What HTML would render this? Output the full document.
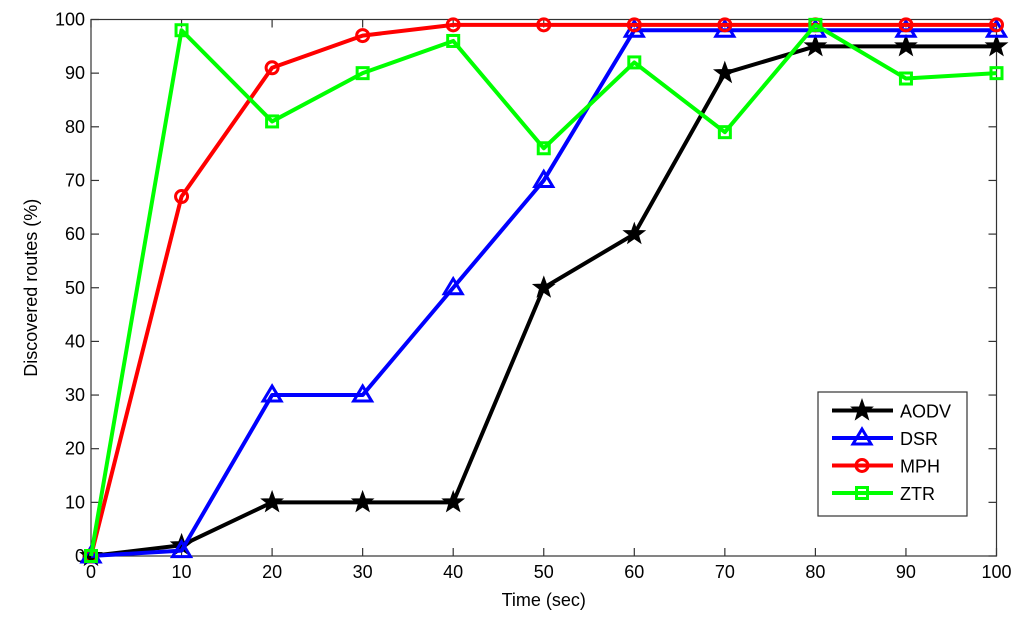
<!DOCTYPE html>
<html><head><meta charset="utf-8"><style>
body{margin:0;background:#fff;}
svg text{font-family:"Liberation Sans",Arial,sans-serif;font-size:18px;fill:#000;}
</style></head><body>
<svg id="chart" width="1024" height="626"></svg>
<script>
const xValues=[0,10,20,30,40,50,60,70,80,90,100];
const aodv=[0,2,10,10,10,50,60,90,95,95,95];
const dsr=[0,1,30,30,50,70,98,98,98,98,98];
const mph=[0,67,91,97,99,99,99,99,99,99,99];
const ztr=[0,98,81,90,96,76,92,79,99,89,90];
const xTicks=[0,10,20,30,40,50,60,70,80,90,100];
const yTicks=[0,10,20,30,40,50,60,70,80,90,100];
const seriesNames=["AODV","DSR","MPH","ZTR"];

const NS="http://www.w3.org/2000/svg";
const svg=document.getElementById('chart');
const L=91,R=996.5,T=19.5,B=556;
const sx=v=>L+(v-0)/100*(R-L);
const sy=v=>B-(v-0)/100*(B-T);
function mk(tag,attrs,parent){const e=document.createElementNS(NS,tag);for(const k in attrs)e.setAttribute(k,attrs[k]);(parent||svg).appendChild(e);return e;}

const axes=mk('rect',{x:L,y:T,width:R-L,height:B-T,fill:'#fff',stroke:'#333','stroke-width':1.2});


xTicks.forEach(t=>{
  const x=sx(t);
  mk('line',{x1:x,x2:x,y1:B,y2:B-8,stroke:'#333','stroke-width':1.2});
  mk('line',{x1:x,x2:x,y1:T,y2:T+8,stroke:'#333','stroke-width':1.2});
  const tx=mk('text',{x:x,y:B+22,'text-anchor':'middle'});tx.textContent=t;
  
  
});
yTicks.forEach(t=>{
  const y=sy(t);
  mk('line',{x1:L,x2:L+8,y1:y,y2:y,stroke:'#333','stroke-width':1.2});
  mk('line',{x1:R,x2:R-8,y1:y,y2:y,stroke:'#333','stroke-width':1.2});
  const tx=mk('text',{x:L-6,y:y+6,'text-anchor':'end'});tx.textContent=t;
  
  
});
const xl=mk('text',{x:(L+R)/2,y:606,'text-anchor':'middle'});xl.textContent='Time (sec)';


const yl=mk('text',{x:37,y:(T+B)/2,'text-anchor':'middle',transform:`rotate(-90 37 ${(T+B)/2})`});yl.textContent='Discovered routes (%)';



function marker(type,x,y,color,g){
  if(type==='star'){
    let p=[];for(let i=0;i<10;i++){const r=i%2?4.5:11;const a=-Math.PI/2+i*Math.PI/5;p.push((x+r*Math.cos(a)).toFixed(1)+','+(y+r*Math.sin(a)).toFixed(1));}
    mk('polygon',{points:p.join(' '),fill:color,stroke:color,'stroke-width':1},g);
  }else if(type==='tri'){
    mk('polygon',{points:`${x},${y-9} ${x-9},${y+6} ${x+9},${y+6}`,fill:'none',stroke:color,'stroke-width':3},g);
  }else if(type==='circ'){
    mk('circle',{cx:x,cy:y,r:6,fill:'none',stroke:color,'stroke-width':3},g);
  }else{
    mk('rect',{x:x-5.5,y:y-5.5,width:11,height:11,fill:'none',stroke:color,'stroke-width':3},g);
  }
}
const series=[[aodv,'#000','star','aodv'],[dsr,'#0000ff','tri','dsr'],[mph,'#ff0000','circ','mph'],[ztr,'#00ff00','sq','ztr']];
series.forEach(([d,c,m,n])=>{
  const g=mk('g',{});
  
  
  mk('polyline',{points:d.map((v,i)=>sx(xValues[i])+','+sy(v)).join(' '),fill:'none',stroke:c,'stroke-width':4,'stroke-linejoin':'round'},g);
  d.forEach((v,i)=>marker(m,sx(xValues[i]),sy(v),c,g));
});
const lg=mk('g',{});


mk('rect',{x:818,y:392,width:149,height:124,fill:'#fff',stroke:'#333','stroke-width':1.2},lg);
series.forEach(([d,c,m,n],i)=>{
  const y=410.5+i*27.5;
  const e=mk('g',{},lg);
  
  
  mk('line',{x1:832,x2:893,y1:y,y2:y,stroke:c,'stroke-width':4},e);
  marker(m,862,y,c,e);
  const t=mk('text',{x:900,y:y+7},e);t.textContent=seriesNames[i];
});
</script>
</body></html>
